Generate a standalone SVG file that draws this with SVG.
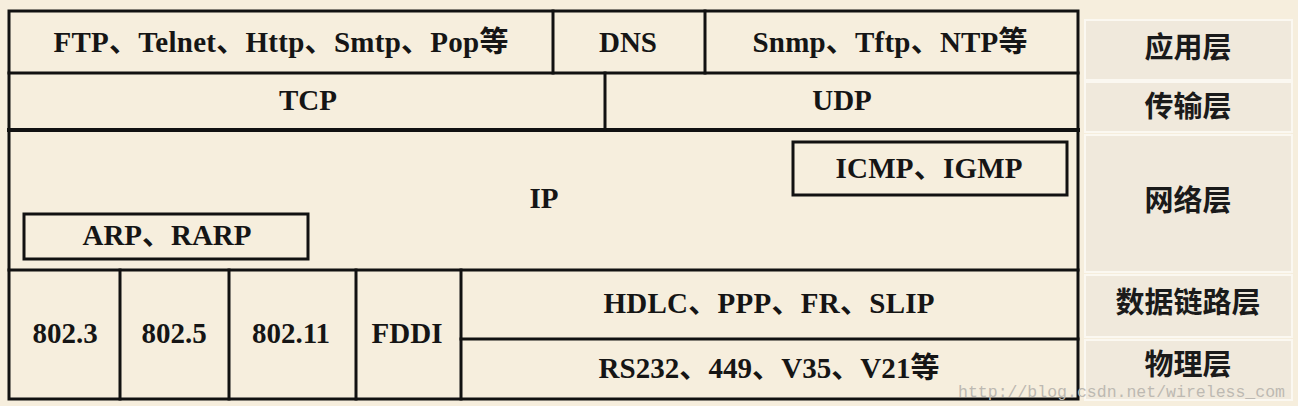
<svg xmlns="http://www.w3.org/2000/svg" width="1298" height="406" viewBox="0 0 1298 406">
<style>
.ln{stroke:#111;stroke-width:3;fill:none;stroke-linecap:square}
.bx{stroke:#111;stroke-width:3;fill:none}
.t{font-family:"Liberation Serif","Noto Sans CJK SC",serif;font-weight:bold;font-size:29px;fill:#151515;text-anchor:middle}
.lb{fill:#f0e9dc;stroke:#fbf8f1;stroke-width:2}
.lt{font-family:"Noto Sans CJK SC","Noto Sans CJK TC",sans-serif;font-weight:bold;font-size:29px;fill:#1a1a1a;text-anchor:middle}
.wm{font-family:"Liberation Mono",monospace;font-size:16.5px;fill:#bdb9b2}
</style>
<rect x="0" y="0" width="1298" height="406" fill="#f6eedd"/>
<g id="connectors">
<rect class="bx" x="9" y="11" width="1069" height="388"/>
<line class="ln" x1="9" y1="73" x2="1078" y2="73"/>
<line class="ln" x1="9" y1="130" x2="1078" y2="130" style="stroke-width:4"/>
<line class="ln" x1="9" y1="270" x2="1078" y2="270"/>
<line class="ln" x1="553" y1="11" x2="553" y2="73"/>
<line class="ln" x1="705" y1="11" x2="705" y2="73"/>
<line class="ln" x1="605" y1="73" x2="605" y2="130"/>
<line class="ln" x1="120" y1="270" x2="120" y2="399"/>
<line class="ln" x1="229" y1="270" x2="229" y2="399"/>
<line class="ln" x1="356" y1="270" x2="356" y2="399"/>
<line class="ln" x1="461" y1="270" x2="461" y2="399"/>
<line class="ln" x1="461" y1="339" x2="1078" y2="339"/>
</g>
<g id="app-protocols"><text class="t" x="281" y="52" textLength="455" lengthAdjust="spacing">FTP、Telnet、Http、Smtp、Pop等</text></g>
<g id="dns"><text class="t" x="628" y="52">DNS</text></g>
<g id="app-protocols-udp"><text class="t" x="890" y="52" textLength="275" lengthAdjust="spacing">Snmp、Tftp、NTP等</text></g>
<g id="tcp"><text class="t" x="308" y="110">TCP</text></g>
<g id="udp"><text class="t" x="842" y="110">UDP</text></g>
<g id="ip"><text class="t" x="544" y="208">IP</text></g>
<g id="icmp"><rect class="bx" x="793" y="142" width="274" height="53"/><text class="t" x="929" y="178" textLength="187" lengthAdjust="spacing">ICMP、IGMP</text></g>
<g id="arp"><rect class="bx" x="24" y="214" width="284" height="45"/><text class="t" x="167" y="245" textLength="169" lengthAdjust="spacing">ARP、RARP</text></g>
<g id="e8023"><text class="t" x="65" y="343">802.3</text></g>
<g id="e8025"><text class="t" x="174" y="343">802.5</text></g>
<g id="e80211"><text class="t" x="291" y="343">802.11</text></g>
<g id="fddi"><text class="t" x="407" y="343">FDDI</text></g>
<g id="hdlc"><text class="t" x="769" y="313" textLength="331" lengthAdjust="spacing">HDLC、PPP、FR、SLIP</text></g>
<g id="rs232"><text class="t" x="769" y="378" textLength="341" lengthAdjust="spacing">RS232、449、V35、V21等</text></g>
<g id="layer-app"><rect class="lb" x="1085" y="20" width="207" height="60"/><text class="lt" x="1188" y="58">应用层</text></g>
<g id="layer-transport"><rect class="lb" x="1085" y="82" width="207" height="50"/><text class="lt" x="1188" y="117">传输层</text></g>
<g id="layer-network"><rect class="lb" x="1085" y="135" width="207" height="137"/><text class="lt" x="1188" y="211">网络层</text></g>
<g id="layer-link"><rect class="lb" x="1085" y="275" width="207" height="62"/><text class="lt" x="1188" y="313">数据链路层</text></g>
<g id="layer-phys"><rect class="lb" x="1085" y="340" width="207" height="60"/><text class="lt" x="1188" y="375">物理层</text></g>
<text class="wm" x="958" y="397" textLength="327" lengthAdjust="spacingAndGlyphs">http://blog.csdn.net/wireless_com</text>
</svg>
